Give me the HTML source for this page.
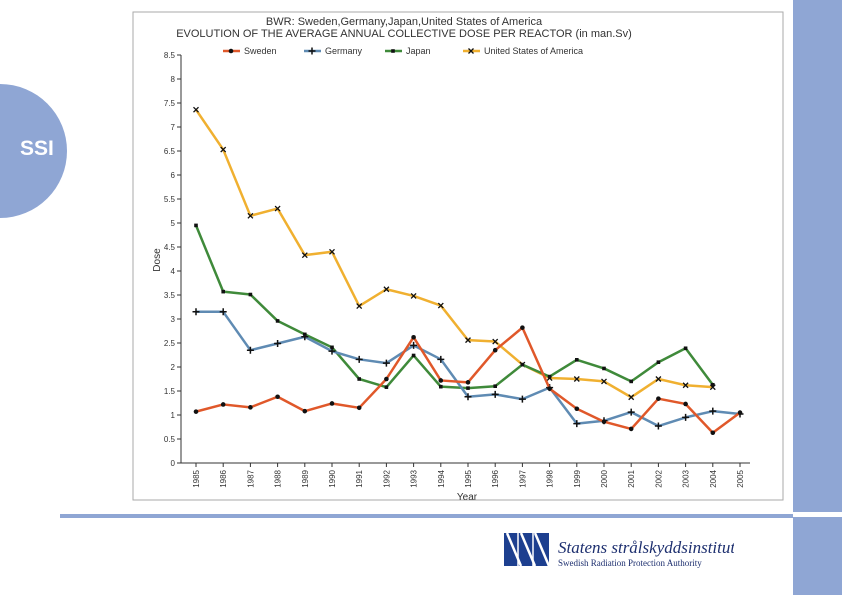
<!DOCTYPE html>
<html><head><meta charset="utf-8"><style>
body{margin:0;width:842px;height:595px;overflow:hidden;background:#fff;position:relative;font-family:"Liberation Sans",sans-serif}
</style></head><body>
<div style="position:absolute;left:0;top:84px;width:67px;height:134px;border-radius:0 67px 67px 0;background:#8fa6d4"></div>
<div style="position:absolute;left:20px;top:137px;color:#fff;font-weight:bold;font-size:21px">SSI</div>
<div style="position:absolute;left:793px;top:0;width:49px;height:512px;background:#8fa6d4"></div>
<div style="position:absolute;left:793px;top:517px;width:49px;height:78px;background:#8fa6d4"></div>
<div style="position:absolute;left:60px;top:514px;width:733px;height:4px;background:#8fa6d4"></div>
<svg style="position:absolute;left:504px;top:533px" width="230" height="40">
<rect x="0" y="0" width="45" height="33" fill="#1d3f8f"/>
<g stroke="#fff" stroke-width="2.5"><line x1="3" y1="0" x2="17" y2="33"/><line x1="17" y1="0" x2="31" y2="33"/><line x1="31" y1="0" x2="45" y2="33"/><line x1="14" y1="0" x2="14" y2="33" stroke-width="1.5"/><line x1="29" y1="0" x2="29" y2="33" stroke-width="1.5"/></g>
<text x="54" y="20" font-family="Liberation Serif,serif" font-style="italic" font-size="17" fill="#1d2f6f">Statens strålskyddsinstitut</text>
<text x="54" y="33" font-family="Liberation Serif,serif" font-size="9" fill="#1d2f6f">Swedish Radiation Protection Authority</text>
</svg>
<svg id="chart" style="position:absolute;left:0;top:0" width="842" height="595"></svg>
<script>
const years=[1985,1986,1987,1988,1989,1990,1991,1992,1993,1994,1995,1996,1997,1998,1999,2000,2001,2002,2003,2004,2005];
const sweden=[1.07,1.22,1.16,1.38,1.08,1.24,1.15,1.75,2.62,1.72,1.68,2.35,2.82,1.55,1.13,0.86,0.71,1.34,1.23,0.63,1.05];
const germany=[3.15,3.15,2.35,2.49,2.63,2.33,2.16,2.08,2.45,2.16,1.38,1.43,1.33,1.57,0.82,0.88,1.06,0.77,0.95,1.08,1.02];
const japan=[4.95,3.57,3.51,2.96,2.68,2.41,1.75,1.58,2.24,1.59,1.56,1.60,2.05,1.80,2.15,1.97,1.70,2.10,2.39,1.63];
const usa=[7.36,6.53,5.15,5.30,4.33,4.40,3.27,3.62,3.48,3.28,2.56,2.53,2.05,1.77,1.75,1.70,1.37,1.75,1.62,1.58];
const yTicks=["0","0.5","1","1.5","2","2.5","3","3.5","4","4.5","5","5.5","6","6.5","7","7.5","8","8.5"];
const svg=document.getElementById('chart');const NS='http://www.w3.org/2000/svg';
function mk(t,a,p){const e=document.createElementNS(NS,t);for(const k in a)e.setAttribute(k,a[k]);(p||svg).appendChild(e);return e;}
const X=i=>196+i*27.2, Y=v=>463-v*48;
const frame=mk('rect',{x:133,y:12,width:650,height:488,fill:'#fff',stroke:'#aaa','stroke-width':1});


const t1=mk('text',{x:404,y:25,'text-anchor':'middle','font-size':11,fill:'#333'});t1.textContent='BWR: Sweden,Germany,Japan,United States of America';


const t2=mk('text',{x:404,y:37,'text-anchor':'middle','font-size':11,fill:'#333'});t2.textContent='EVOLUTION OF THE AVERAGE ANNUAL COLLECTIVE DOSE PER REACTOR (in man.Sv)';


const ax=mk('path',{d:'M181,55V463H750',stroke:'#333',fill:'none'});


yTicks.forEach(s=>{const v=parseFloat(s);mk('line',{x1:177,x2:181,y1:Y(v),y2:Y(v),stroke:'#333'});
const t=mk('text',{x:175,y:Y(v)+3,'text-anchor':'end','font-size':8,fill:'#333'});t.textContent=s;

});
years.forEach((yr,i)=>{mk('line',{x1:X(i),x2:X(i),y1:463,y2:467,stroke:'#333'});
const t=mk('text',{x:X(i)+3,y:470,'text-anchor':'end','font-size':8,fill:'#333',transform:`rotate(-90 ${X(i)+3} 470)`});t.textContent=yr;

});
const xt=mk('text',{x:467,y:500,'text-anchor':'middle','font-size':10,fill:'#333'});xt.textContent='Year';


const yt=mk('text',{x:160,y:260,'text-anchor':'middle','font-size':10,fill:'#333',transform:'rotate(-90 160 260)'});yt.textContent='Dose';


function marker(type,x,y,g){
 if(type==='dot')mk('circle',{cx:x,cy:y,r:2.3,fill:'#111'},g);
 else if(type==='plus')mk('path',{d:`M${x-3.5},${y}h7M${x},${y-3.5}v7`,stroke:'#111','stroke-width':1.5},g);
 else if(type==='sq')mk('rect',{x:x-1.8,y:y-1.8,width:3.6,height:3.6,fill:'#111'},g);
 else mk('path',{d:`M${x-2.5},${y-2.5}l5,5M${x+2.5},${y-2.5}l-5,5`,stroke:'#111','stroke-width':1.3},g);
}
const series=[['sweden',sweden,'#e0582a','dot','Sweden',223],['germany',germany,'#5f8bb3','plus','Germany',304],['japan',japan,'#3f8a3a','sq','Japan',385],['usa',usa,'#f0b030','x','United States of America',463]];
series.slice().reverse().forEach(([n,d,c,m])=>{const g=mk('g',{});


mk('polyline',{points:d.map((v,i)=>X(i)+','+Y(v)).join(' '),fill:'none',stroke:c,'stroke-width':2.5,'stroke-linejoin':'round'},g);
d.forEach((v,i)=>marker(m,X(i),Y(v),g));});
series.forEach(([n,d,c,m,label,lx])=>{const g=mk('g',{});


mk('line',{x1:lx,x2:lx+17,y1:51,y2:51,stroke:c,'stroke-width':2.5},g);marker(m,lx+8,51,g);
const t=mk('text',{x:lx+21,y:54,'font-size':9,fill:'#333'},g);t.textContent=label;});
</script>
</body></html>
